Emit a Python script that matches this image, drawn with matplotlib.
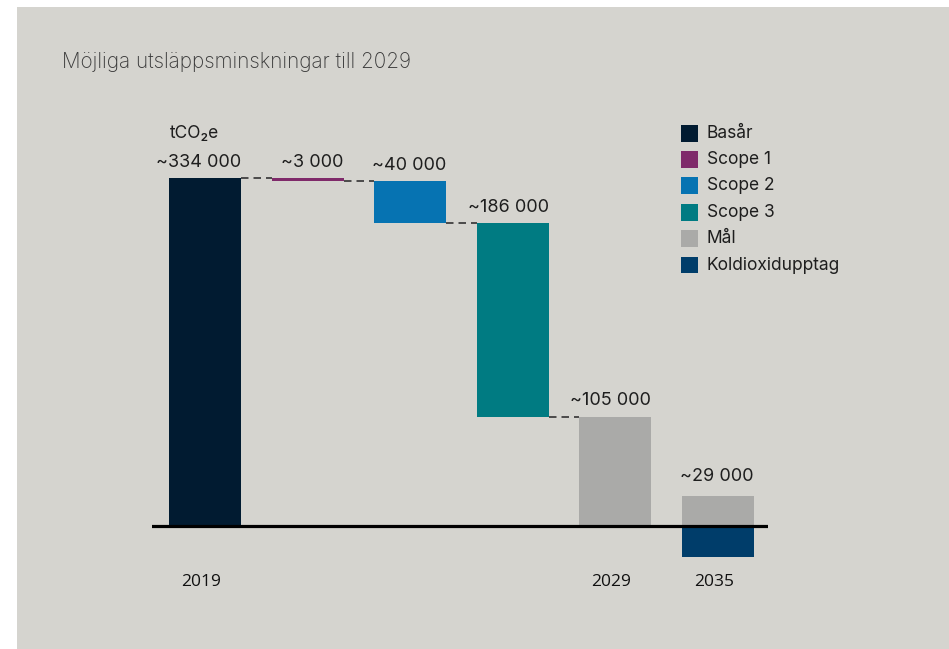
import matplotlib.pyplot as plt
from matplotlib.patches import Rectangle

# Data
categories = ['Basår', 'Scope 1', 'Scope 2', 'Scope 3', 'Mål', 'Mål']
base_value = 334000
reductions = [3000, 40000, 186000]
targets = [105000, 29000]
removal = -30000  # Koldioxidupptag 2035
value_labels = ['~334 000', '~3 000', '~40 000', '~186 000', '~105 000', '~29 000']
year_labels = {0: '2019', 4: '2029', 5: '2035'}

legend_names = ['Basår', 'Scope 1', 'Scope 2', 'Scope 3', 'Mål', 'Koldioxidupptag']
colors = {
    'Basår': '#011b31',
    'Scope 1': '#7f2a6a',
    'Scope 2': '#0673b2',
    'Scope 3': '#007b82',
    'Mål': '#aaaaa8',
    'Koldioxidupptag': '#003d6a',
}

BG = '#d5d4cf'
TEXT = '#1e1e1e'
FONT = ['Inter', 'DejaVu Sans']
W, H = 949, 649

plt.rcParams['font.family'] = FONT

fig = plt.figure(figsize=(W / 100, H / 100), dpi=100)
fig.patch.set_facecolor('white')
fig.add_artist(Rectangle((17 / W, 0), 1 - 17 / W, (H - 7) / H,
                         transform=fig.transFigure, facecolor=BG,
                         edgecolor='none', zorder=0))

# axes placed so baseline sits at pixel y=526
top_px, bot_px = 100, 600
px_per_unit = 348 / 334000
ax = fig.add_axes([152 / W, (H - bot_px) / H, 616 / W, (bot_px - top_px) / H])
ax.set_facecolor('none')
ax.set_xlim(-0.52, 5.49)
ax.set_ylim(-(bot_px - 526) / px_per_unit, (526 - top_px) / px_per_unit)
ax.axis('off')

width = 0.70

# waterfall bars
bottoms = [0]
heights = [base_value]
level = base_value
for r in reductions:
    level -= r
    bottoms.append(level)
    heights.append(r)
bottoms += [0, 0]
heights += targets

for i, (b, h, cat) in enumerate(zip(bottoms, heights, categories)):
    ax.bar(i, h, width=width, bottom=b, color=colors[cat], zorder=2)

# carbon removal below zero in 2035
ax.bar(5, removal, width=width, bottom=0, color=colors['Koldioxidupptag'], zorder=2)

# dashed connectors
tops = [b + h for b, h in zip(bottoms, heights)]
levels = [base_value]
lv = base_value
for r in reductions:
    lv -= r
    levels.append(lv)
for i, lv in enumerate(levels):
    ax.plot([i + width / 2, i + 1 - width / 2], [lv, lv], color='#333333',
            linestyle=(0, (4.5, 3)), linewidth=1.2, zorder=1)

# baseline
ax.axhline(0, color='black', linewidth=2.3, zorder=3)

# value labels
offsets = [8, 8, 8, 8, 8, 11]
for i, lab in enumerate(value_labels):
    ax.annotate(lab, (i + width / 2, tops[i]), xytext=(0, offsets[i]),
                textcoords='offset points', ha='right', va='baseline',
                fontsize=13, color=TEXT)

ax.annotate('tCO₂e', (0 - width / 2, tops[0]), xytext=(0, 29),
            textcoords='offset points', ha='left', va='baseline',
            fontsize=12.5, color=TEXT)

# year labels
for i, yr in year_labels.items():
    ax.text(i - 0.04, -(582 - 526) / px_per_unit, yr, ha='center', va='center',
            fontsize=12.5, color='#111111', family=['Open Sans', 'DejaVu Sans'])

# title
fig.text(62 / W, 1 - 62 / H, 'Möjliga utsläppsminskningar till 2029',
         ha='left', va='center', fontsize=14.9, color='#3a3a3a',
         fontweight='light')

# legend
for k, name in enumerate(legend_names):
    cy = 133 + 26.4 * k
    fig.add_artist(Rectangle((681 / W, 1 - (cy + 8.5) / H), 17 / W, 17 / H,
                             transform=fig.transFigure, facecolor=colors[name],
                             edgecolor='none'))
    fig.text(707 / W, 1 - cy / H, name, ha='left', va='center',
             fontsize=12.5, color=TEXT)

fig.savefig('out.png', dpi=100, facecolor=fig.get_facecolor())
